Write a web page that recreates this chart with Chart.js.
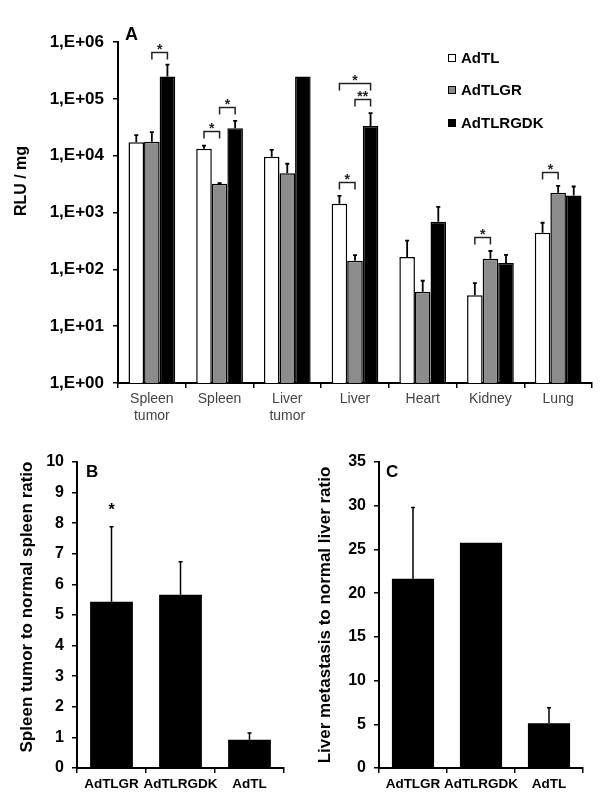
<!DOCTYPE html>
<html>
<head>
<meta charset="utf-8">
<script src="https://cdn.jsdelivr.net/npm/chart.js@4/dist/chart.umd.min.js"></script>
<style>
  html, body { margin:0; padding:0; background:#fff; }
  body { width:600px; height:808px; position:relative; overflow:hidden; font-family:"Liberation Sans", Arial, sans-serif; }
  canvas { position:absolute; }
  .lbl { position:absolute; font-weight:bold; color:#000; line-height:1; white-space:nowrap; }
  .leg { position:absolute; left:448px; font-weight:bold; font-size:15px; line-height:15px; color:#000; white-space:nowrap; }
  .leg span.sw { display:inline-block; width:6px; height:6px; border:1px solid #000; margin-right:5px; vertical-align:1px; }
</style>
</head>
<body>
<canvas id="cA" width="600" height="430" style="left:0;top:0;width:600px;height:430px"></canvas>
<canvas id="cB" width="300" height="368" style="left:0;top:440px;width:300px;height:368px"></canvas>
<canvas id="cC" width="300" height="368" style="left:300px;top:440px;width:300px;height:368px"></canvas>

<div class="lbl" style="left:125px;top:25px;font-size:18px">A</div>
<div class="lbl" style="left:86px;top:463px;font-size:17px">B</div>
<div class="lbl" style="left:386px;top:463px;font-size:17px">C</div>

<div class="leg" style="top:50px"><span class="sw" style="background:#fff"></span>AdTL</div>
<div class="leg" style="top:82px"><span class="sw" style="background:#8c8c8c"></span>AdTLGR</div>
<div class="leg" style="top:115px"><span class="sw" style="background:#000"></span>AdTLRGDK</div>

<script>
// ---------- Panel A data ----------
const categoriesA = [['Spleen', 'tumor'], 'Spleen', ['Liver', 'tumor'], 'Liver', 'Heart', 'Kidney', 'Lung'];
const seriesNamesA = ['AdTL', 'AdTLGR', 'AdTLRGDK'];
const adtl       = [17300, 13200, 9600, 1420, 164, 35, 440];
const adtlErr    = [23000, 15000, 12600, 1960, 320, 57, 660];
const adtlgr     = [17500, 3200, 4900, 142, 40.5, 153, 2230];
const adtlgrErr  = [26000, 3300, 7200, 178, 63, 210, 2940];
const adtlrgdk   = [246000, 30300, 246000, 33300, 690, 129, 1990];
const adtlrgdkErr= [400000, 41000, null, 56000, 1260, 180, 2870];
const yTicksA      = [1, 10, 100, 1000, 10000, 100000, 1000000];
const yTickLabelsA = ['1,E+00', '1,E+01', '1,E+02', '1,E+03', '1,E+04', '1,E+05', '1,E+06'];
// significance brackets: category index, series a, series b, bracket level (data units), label
const bracketCat   = [0, 1, 1, 3, 3, 3, 5, 6];
const bracketFrom  = [1, 0, 1, 0, 0, 1, 0, 0];
const bracketTo    = [2, 1, 2, 1, 2, 2, 1, 1];
const bracketLevel = [680000, 27000, 72000, 3400, 190000, 100000, 370, 5200];
const bracketText  = ['*', '*', '*', '*', '*', '**', '*', '*'];

// ---------- Panel B data ----------
const categoriesB = ['AdTLGR', 'AdTLRGDK', 'AdTL'];
const ratioB      = [5.43, 5.66, 0.92];
const ratioBErr   = [7.88, 6.74, 1.14];
const starB       = ['*', '', ''];
const starBLevel  = [8.45, null, null];

// ---------- Panel C data ----------
const categoriesC = ['AdTLGR', 'AdTLRGDK', 'AdTL'];
const ratioC      = [21.66, 25.75, 5.11];
const ratioCErr   = [29.8, null, 6.89];

const FAM = '"Liberation Sans", Arial, sans-serif';

// ---------- plugins ----------
const errorBars = {
  id: 'errorBars',
  afterDatasetsDraw(chart, args, opts) {
    const ctx = chart.ctx;
    const ys = chart.scales.y;
    ctx.save();
    ctx.strokeStyle = '#000';
    ctx.lineWidth = opts.lineWidth || 1.5;
    chart.data.datasets.forEach((ds, di) => {
      if (!ds.errHigh) return;
      const meta = chart.getDatasetMeta(di);
      meta.data.forEach((el, i) => {
        const e = ds.errHigh[i];
        if (e == null) return;
        const yTop = ys.getPixelForValue(e);
        const yBar = el.y;
        ctx.beginPath();
        ctx.moveTo(el.x, yBar);
        ctx.lineTo(el.x, yTop);
        ctx.moveTo(el.x - 2, yTop);
        ctx.lineTo(el.x + 2, yTop);
        ctx.stroke();
      });
    });
    ctx.restore();
  }
};

const brackets = {
  id: 'brackets',
  afterDatasetsDraw(chart, args, opts) {
    if (!opts.cats) return;
    const ctx = chart.ctx;
    const ys = chart.scales.y;
    ctx.save();
    ctx.strokeStyle = '#222';
    ctx.fillStyle = '#222';
    ctx.lineWidth = 1.5;
    ctx.font = 'bold 14px ' + FAM;
    ctx.textAlign = 'center';
    ctx.textBaseline = 'alphabetic';
    opts.cats.forEach((c, k) => {
      const xa = chart.getDatasetMeta(opts.from[k]).data[c].x;
      const xb = chart.getDatasetMeta(opts.to[k]).data[c].x;
      const y = Math.round(ys.getPixelForValue(opts.level[k])) + 0.5;
      ctx.beginPath();
      ctx.moveTo(xa, y + 7);
      ctx.lineTo(xa, y);
      ctx.lineTo(xb, y);
      ctx.lineTo(xb, y + 7);
      ctx.stroke();
      ctx.fillText(opts.text[k], (xa + xb) / 2, y + 1);
    });
    ctx.restore();
  }
};

const stars = {
  id: 'stars',
  afterDatasetsDraw(chart, args, opts) {
    if (!opts.text) return;
    const ctx = chart.ctx;
    const ys = chart.scales.y;
    ctx.save();
    ctx.fillStyle = '#000';
    ctx.font = 'bold 16px ' + FAM;
    ctx.textAlign = 'center';
    ctx.textBaseline = 'alphabetic';
    const meta = chart.getDatasetMeta(0);
    opts.text.forEach((t, i) => {
      if (!t || opts.level[i] == null) return;
      ctx.fillText(t, meta.data[i].x, ys.getPixelForValue(opts.level[i]) + 6);
    });
    ctx.restore();
  }
};

const yTitle = {
  id: 'yTitle',
  afterDraw(chart, args, opts) {
    if (!opts.text) return;
    const ctx = chart.ctx;
    ctx.save();
    ctx.fillStyle = '#000';
    ctx.font = 'bold ' + opts.size + 'px ' + FAM;
    ctx.textAlign = 'center';
    ctx.textBaseline = 'middle';
    ctx.translate(opts.x, opts.y);
    ctx.rotate(-Math.PI / 2);
    ctx.fillText(opts.text, 0, 0);
    ctx.restore();
  }
};

Chart.register(errorBars, brackets, stars, yTitle);

const axisGrid = { display: true, drawOnChartArea: false, drawTicks: true, tickLength: 5, color: '#000', lineWidth: 1.5 };
const axisBorder = { display: true, color: '#000', width: 2 };

// ---------- Panel A ----------
new Chart(document.getElementById('cA'), {
  type: 'bar',
  data: {
    labels: categoriesA,
    datasets: [
      { label: seriesNamesA[0], data: adtl, errHigh: adtlErr, backgroundColor: '#ffffff', borderColor: '#000', borderWidth: 1.5 },
      { label: seriesNamesA[1], data: adtlgr, errHigh: adtlgrErr, backgroundColor: '#8c8c8c', borderColor: '#000', borderWidth: 1.5 },
      { label: seriesNamesA[2], data: adtlrgdk, errHigh: adtlrgdkErr, backgroundColor: '#000000', borderColor: '#000', borderWidth: 1.5 }
    ]
  },
  options: {
    responsive: false, animation: false,
    datasets: { bar: { categoryPercentage: 0.69, barPercentage: 1.0 } },
    layout: { padding: { top: 42, right: 8, left: 0, bottom: 0 } },
    plugins: {
      legend: { display: false }, tooltip: { enabled: false },
      errorBars: { lineWidth: 1.8 },
      brackets: { cats: bracketCat, from: bracketFrom, to: bracketTo, level: bracketLevel, text: bracketText },
      yTitle: { text: 'RLU / mg', size: 16, x: 22, y: 181 }
    },
    scales: {
      x: {
        grid: Object.assign({}, axisGrid, { offset: true }),
        border: axisBorder,
        ticks: { font: { size: 14, family: FAM }, color: '#444', padding: 3, maxRotation: 0, autoSkip: false },
        afterFit(s) { s.height = 47; }
      },
      y: {
        type: 'logarithmic', min: 1, max: 1000000,
        afterBuildTicks(s) { s.ticks = yTicksA.map(v => ({ value: v })); },
        grid: axisGrid, border: axisBorder,
        ticks: { callback: (v, i) => yTickLabelsA[i], font: { size: 17, weight: 'bold', family: FAM }, color: '#000', padding: 9 },
        afterFit(s) { s.width = 118; }
      }
    }
  }
});

// ---------- Panel B ----------
new Chart(document.getElementById('cB'), {
  type: 'bar',
  data: { labels: categoriesB, datasets: [{ data: ratioB, errHigh: ratioBErr, backgroundColor: '#000', borderColor: '#000', borderWidth: 0 }] },
  options: {
    responsive: false, animation: false,
    datasets: { bar: { categoryPercentage: 0.62, barPercentage: 1.0 } },
    layout: { padding: { top: 22, right: 16, left: 0, bottom: 0 } },
    plugins: {
      legend: { display: false }, tooltip: { enabled: false },
      errorBars: { lineWidth: 1.5 },
      stars: { text: starB, level: starBLevel },
      yTitle: { text: 'Spleen tumor to normal spleen ratio', size: 17, x: 27, y: 167 }
    },
    scales: {
      x: {
        grid: Object.assign({}, axisGrid, { offset: true }),
        border: axisBorder,
        ticks: { font: { size: 13.5, weight: 'bold', family: FAM }, color: '#000', padding: 3, maxRotation: 0, autoSkip: false },
        afterFit(s) { s.height = 40; }
      },
      y: {
        min: 0, max: 10,
        grid: axisGrid, border: axisBorder,
        ticks: { stepSize: 1, font: { size: 16, weight: 'bold', family: FAM }, color: '#000', padding: 8 },
        afterFit(s) { s.width = 77; }
      }
    }
  }
});

// ---------- Panel C ----------
new Chart(document.getElementById('cC'), {
  type: 'bar',
  data: { labels: categoriesC, datasets: [{ data: ratioC, errHigh: ratioCErr, backgroundColor: '#000', borderColor: '#000', borderWidth: 0 }] },
  options: {
    responsive: false, animation: false,
    datasets: { bar: { categoryPercentage: 0.62, barPercentage: 1.0 } },
    layout: { padding: { top: 22, right: 17, left: 0, bottom: 0 } },
    plugins: {
      legend: { display: false }, tooltip: { enabled: false },
      errorBars: { lineWidth: 1.5 },
      yTitle: { text: 'Liver metastasis to normal liver ratio', size: 17, x: 25, y: 175 }
    },
    scales: {
      x: {
        grid: Object.assign({}, axisGrid, { offset: true }),
        border: axisBorder,
        ticks: { font: { size: 13.5, weight: 'bold', family: FAM }, color: '#000', padding: 3, maxRotation: 0, autoSkip: false },
        afterFit(s) { s.height = 40; }
      },
      y: {
        min: 0, max: 35,
        grid: axisGrid, border: axisBorder,
        ticks: { stepSize: 5, font: { size: 16, weight: 'bold', family: FAM }, color: '#000', padding: 8 },
        afterFit(s) { s.width = 79; }
      }
    }
  }
});
</script>
</body>
</html>
